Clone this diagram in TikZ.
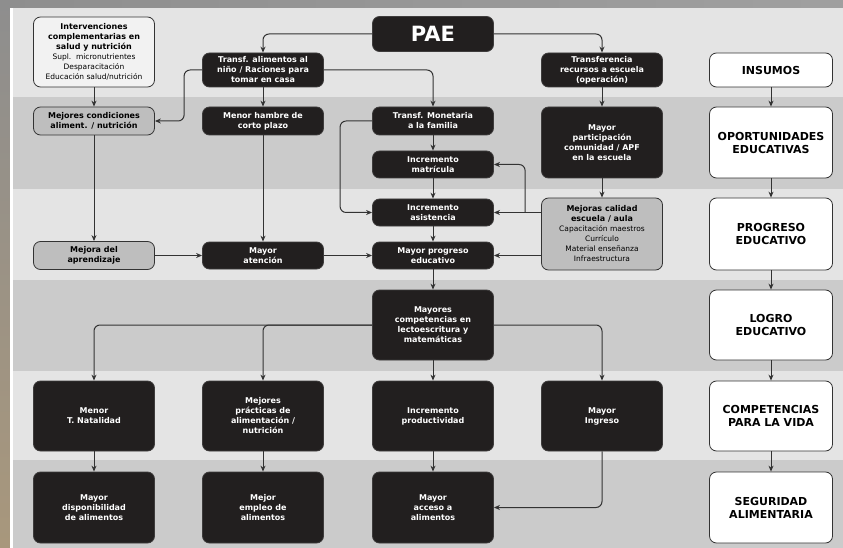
\documentclass[tikz,border=0pt]{standalone}
\usepackage{fontspec}
\setmainfont{DejaVu Sans}
\usepackage{xcolor}
\usetikzlibrary{arrows.meta,positioning,calc}

\definecolor{bandlight}{HTML}{E4E4E4}
\definecolor{banddark}{HTML}{CBCBCB}
\definecolor{boxblack}{HTML}{221F1F}
\definecolor{boxgray}{HTML}{BEBEBE}
\definecolor{boxlight}{HTML}{F2F2F2}
\definecolor{linegray}{HTML}{333333}
\definecolor{frametan}{HTML}{A8977C}
\definecolor{framegray}{HTML}{8E8E8E}

\tikzset{
	box/.style={rectangle, rounded corners=7pt, align=center, minimum width=121pt, inner sep=1pt, line width=0.8pt},
	darkbox/.style={box, fill=boxblack, draw=boxblack!70!gray, text=white, font=\bfseries\fontsize{8}{10}\selectfont},
	graybox/.style={box, fill=boxgray, draw=linegray, font=\bfseries\fontsize{8}{10}\selectfont},
	lightbox/.style={box, fill=boxlight, draw=linegray, font=\fontsize{7.5}{10}\selectfont},
	levelbox/.style={box, fill=white, draw=linegray, minimum width=123pt, font=\bfseries\fontsize{11}{13}\selectfont},
	conn/.style={draw=linegray, line width=1pt, -{Stealth[length=6pt,width=5pt]}},
}

\begin{document}
\begin{tikzpicture}[x=1pt,y=-1pt]
	\useasboundingbox (0,0) rectangle (843,548);
	% frame and bands
	\shade[top color=framegray, bottom color=frametan] (0,0) rectangle (10,548);
	\shade[left color=framegray, right color=gray!75] (0,0) rectangle (843,8);
	\fill[white] (10,8) rectangle (13,548);
	\foreach \ya/\yb/\c in {8/97/bandlight, 97/189/banddark, 189/280/bandlight, 280/371/banddark, 371/460/bandlight, 460/548/banddark}
		\fill[\c] (13,\ya) rectangle (843,\yb);

	% inputs
	\node[darkbox, minimum height=35pt, font=\bfseries\fontsize{21}{24}\selectfont](pae) at (433,34) {PAE};
	\node[lightbox, minimum height=70pt](inter) at (94,52) {\bfseries\fontsize{8}{10}\selectfont Intervenciones\\\bfseries\fontsize{8}{10}\selectfont complementarias en\\\bfseries\fontsize{8}{10}\selectfont salud y nutrición\\Supl.\ \ micronutrientes\\Desparacitación\\Educación salud/nutrición};
	\node[darkbox, minimum height=34pt](ta) at (263,70) {Transf. alimentos al\\niño / Raciones para\\tomar en casa};
	\node[darkbox, minimum height=34pt](trec) at (602,70) {Transferencia\\recursos a escuela\\(operación)};
	\node[levelbox, minimum height=34pt](insumos) at (771,70) {INSUMOS};

	% oportunidades
	\node[graybox, minimum height=28pt](mcond) at (94,121) {Mejores condiciones\\aliment. / nutrición};
	\node[darkbox, minimum height=28pt](mhambre) at (263,121) {Menor hambre de\\corto plazo};
	\node[darkbox, minimum height=28pt](tmon) at (433,121) {Transf. Monetaria\\a la familia};
	\node[darkbox, minimum height=71pt](mpart) at (602,142.5) {Mayor\\participación\\comunidad / APF\\en la escuela};
	\node[levelbox, minimum height=71pt](oport) at (771,142.5) {OPORTUNIDADES\\EDUCATIVAS};
	\node[darkbox, minimum height=27pt](imat) at (433,164.5) {Incremento\\matrícula};

	% progreso
	\node[darkbox, minimum height=27pt](iasis) at (433,212.5) {Incremento\\asistencia};
	\node[graybox, minimum height=72pt](mcal) at (602,234) {Mejoras calidad\\escuela / aula\\\mdseries\fontsize{7.5}{10}\selectfont Capacitación maestros\\\mdseries\fontsize{7.5}{10}\selectfont Currículo\\\mdseries\fontsize{7.5}{10}\selectfont Material enseñanza\\\mdseries\fontsize{7.5}{10}\selectfont Infraestructura};
	\node[levelbox, minimum height=72pt](progreso) at (771,234) {PROGRESO\\EDUCATIVO};
	\node[graybox, minimum height=28pt](maprend) at (94,255.5) {Mejora del\\aprendizaje};
	\node[darkbox, minimum height=27pt](matenc) at (263,255.5) {Mayor\\atención};
	\node[darkbox, minimum height=27pt](mprog) at (433,255.5) {Mayor progreso\\educativo};

	% logro
	\node[darkbox, minimum height=70pt](mcomp) at (433,325) {Mayores\\competencias en\\lectoescritura y\\matemáticas};
	\node[levelbox, minimum height=70pt](logro) at (771,325) {LOGRO\\EDUCATIVO};

	% competencias para la vida
	\node[darkbox, minimum height=70pt](natal) at (94,416) {Menor\\T. Natalidad};
	\node[darkbox, minimum height=70pt](practicas) at (263,416) {Mejores\\prácticas de\\alimentación /\\nutrición};
	\node[darkbox, minimum height=70pt](product) at (433,416) {Incremento\\productividad};
	\node[darkbox, minimum height=70pt](ingreso) at (602,416) {Mayor\\Ingreso};
	\node[levelbox, minimum height=70pt](compet) at (771,416) {COMPETENCIAS\\PARA LA VIDA};

	% seguridad alimentaria
	\node[darkbox, minimum height=71pt](dispon) at (94,507.5) {Mayor\\disponibilidad\\de alimentos};
	\node[darkbox, minimum height=71pt](empleo) at (263,507.5) {Mejor\\empleo de\\alimentos};
	\node[darkbox, minimum height=71pt](acceso) at (433,507.5) {Mayor\\acceso a\\alimentos};
	\node[levelbox, minimum height=71pt](segur) at (771,507.5) {SEGURIDAD\\ALIMENTARIA};

	% connectors
	\draw[conn, rounded corners=6pt] (pae.west) -| (ta.north);
	\draw[conn, rounded corners=6pt] (pae.east) -| (trec.north);
	\draw[conn, rounded corners=6pt] (ta.west) -- ++(-18,0) |- (mcond.east);
	\draw[conn, rounded corners=6pt] (ta.east) -| (tmon.north);
	\draw[conn, rounded corners=6pt] (tmon.west) -- ++(-32,0) |- (iasis.west);
	\coordinate (caljn) at ($(mcal.west |- iasis.east)+(-16,0)$);
	\draw[conn, rounded corners=6pt] (caljn) |- (imat.east);
	\draw[conn] (mcal.west |- iasis.east) -- (iasis.east);
	\draw[conn] (mcal.west |- mprog.east) -- (mprog.east);
	\draw[conn, rounded corners=6pt] (mcomp.west) -| (natal.north);
	\draw[conn, rounded corners=6pt] (mcomp.west) -| (practicas.north);
	\draw[conn, rounded corners=6pt] (mcomp.east) -| (ingreso.north);
	\draw[conn, rounded corners=6pt] (ingreso.south) |- (acceso.east);
	\path[conn](inter) edge (mcond);
	\path[conn](ta) edge (mhambre);
	\path[conn](trec) edge (mpart);
	\path[conn](tmon) edge (imat);
	\path[conn](imat) edge (iasis);
	\path[conn](iasis) edge (mprog);
	\path[conn](mpart) edge (mcal);
	\path[conn](mcond) edge (maprend);
	\path[conn](mhambre) edge (matenc);
	\path[conn](maprend) edge (matenc);
	\path[conn](matenc) edge (mprog);
	\path[conn](mprog) edge (mcomp);
	\path[conn](mcomp) edge (product);
	\path[conn](natal) edge (dispon);
	\path[conn](practicas) edge (empleo);
	\path[conn](product) edge (acceso);
	\path[conn](insumos) edge (oport)
		(oport) edge (progreso)
		(progreso) edge (logro)
		(logro) edge (compet)
		(compet) edge (segur);
\end{tikzpicture}
\end{document}
